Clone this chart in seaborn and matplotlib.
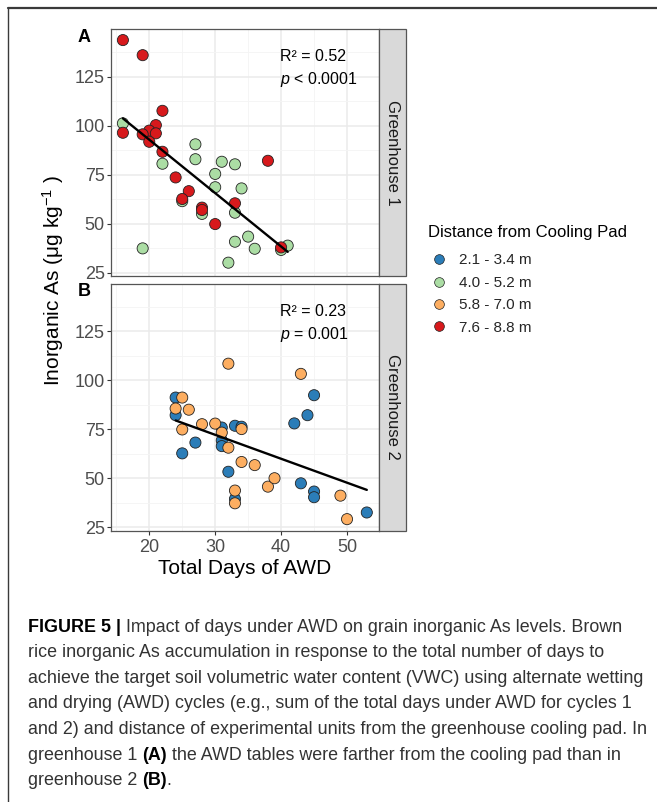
import numpy as np
import pandas as pd
import matplotlib
matplotlib.use("Agg")
import matplotlib.pyplot as plt
import seaborn as sns
from matplotlib.lines import Line2D
from matplotlib.patches import Rectangle

sns.set_theme(style="white")
plt.rcParams["font.family"] = ["Liberation Sans", "DejaVu Sans"]
plt.rcParams["mathtext.fontset"] = "custom"
plt.rcParams["mathtext.rm"] = "Liberation Sans"
plt.rcParams["mathtext.it"] = "Liberation Sans:italic"
plt.rcParams["mathtext.bf"] = "Liberation Sans:bold"

# ---------------- data ----------------
dist_labels = ["2.1 - 3.4 m", "4.0 - 5.2 m", "5.8 - 7.0 m", "7.6 - 8.8 m"]
dist_colors = ["#2B7DB8", "#ABDDA4", "#FDAE61", "#D7191C"]

# Greenhouse 1
gh1_green_days = [16, 19, 22, 25, 27, 27, 28, 30, 30, 31, 33, 34, 33, 33, 35, 36, 32, 40, 41]
gh1_green_as = [101.2, 37.4, 80.6, 61.5, 90.5, 82.9, 55.0, 75.4, 68.6, 81.6, 80.3, 68.0,
                55.6, 40.8, 43.4, 37.2, 30.1, 36.6, 38.8]
gh1_red_days = [16, 19, 22, 16, 21, 20, 19, 21, 20, 22, 24, 26, 25, 28, 28, 30, 33, 38, 40]
gh1_red_as = [143.7, 136.0, 107.6, 96.4, 100.3, 97.5, 95.6, 96.1, 91.8, 86.7, 73.6, 66.6,
              62.6, 58.2, 57.0, 49.8, 60.4, 82.1, 37.9]

# Greenhouse 2
gh2_blue_days = [24, 24, 25, 27, 31, 31, 31, 33, 34, 32, 33, 42, 44, 45, 43, 45, 45, 53]
gh2_blue_as = [91.2, 82.2, 62.7, 68.2, 75.9, 69.3, 66.4, 76.8, 76.3, 53.3, 39.4, 78.0,
               82.2, 92.4, 47.4, 43.2, 40.3, 32.5]
gh2_orange_days = [25, 24, 26, 25, 28, 30, 31, 32, 32, 34, 34, 36, 33, 33, 38, 39, 43, 49, 50]
gh2_orange_as = [91.2, 85.6, 85.0, 74.9, 77.6, 77.9, 73.3, 65.6, 108.5, 75.1, 58.3, 56.7,
                 43.7, 37.2, 45.7, 50.0, 103.3, 41.1, 29.1]

stats_text = [("R\u00b2 = 0.52", r"$\it{p}$ < 0.0001"), ("R\u00b2 = 0.23", r"$\it{p}$ = 0.001")]
panel_letters = ["A", "B"]
strip_labels = ["Greenhouse 1", "Greenhouse 2"]

dA = pd.concat([
    pd.DataFrame({"days": gh1_green_days, "inas": gh1_green_as, "dist": dist_labels[1]}),
    pd.DataFrame({"days": gh1_red_days, "inas": gh1_red_as, "dist": dist_labels[3]}),
], ignore_index=True)
dB = pd.concat([
    pd.DataFrame({"days": gh2_blue_days, "inas": gh2_blue_as, "dist": dist_labels[0]}),
    pd.DataFrame({"days": gh2_orange_days, "inas": gh2_orange_as, "dist": dist_labels[2]}),
], ignore_index=True)
palette = dict(zip(dist_labels, dist_colors))

# ---------------- layout ----------------
W, H = 657, 802
fig = plt.figure(figsize=(W / 100, H / 100), dpi=100)


def rect(l, t, r, b):
    return [l / W, 1 - b / H, (r - l) / W, (b - t) / H]


panels = [(29.3, 276.0), (284.0, 530.5)]
L, R = 110.7, 379.0
axes = [fig.add_axes(rect(L, t, R, b)) for t, b in panels]

for i, (ax, d) in enumerate(zip(axes, [dA, dB])):
    sns.scatterplot(data=d, x="days", y="inas", hue="dist", palette=palette, ax=ax,
                    s=64, edgecolor="#222222", linewidth=0.6, legend=False, zorder=3)
    sns.regplot(data=d, x="days", y="inas", scatter=False, ci=None, color="black",
                line_kws={"lw": 1.7, "zorder": 4}, ax=ax, truncate=True)
    ax.set_xlim(14.15, 54.85)
    ax.set_ylim(23.3, 149.2)
    ax.set_xticks([20, 30, 40, 50])
    ax.set_xticks([15, 25, 35, 45], minor=True)
    ax.set_yticks([25, 50, 75, 100, 125])
    ax.set_yticks([37.5, 62.5, 87.5, 112.5, 137.5], minor=True)
    ax.grid(True, which="major", color="#EBEBEB", lw=1.1)
    ax.grid(True, which="minor", color="#F4F4F4", lw=0.6)
    ax.set_axisbelow(True)
    for s in ax.spines.values():
        s.set_color("#555555")
        s.set_linewidth(0.9)
    show_x = i == 1
    ax.tick_params(which="major", length=2.8, width=0.8, color="#333333", labelsize=13,
                   labelcolor="#4D4D4D", pad=1.5, left=True, bottom=show_x,
                   labelbottom=show_x)
    ax.tick_params(axis="x", pad=3)
    ax.tick_params(which="minor", length=0)
    ax.set_xlabel("")
    ax.set_ylabel("")

    t, b = panels[i]
    fig.add_artist(Rectangle((R / W, 1 - b / H), 27 / W, (b - t) / H,
                             transform=fig.transFigure, facecolor="#D9D9D9",
                             edgecolor="#555555", lw=0.9))
    fig.text(392.5 / W, 1 - (t + b) / 2 / H, strip_labels[i], rotation=-90, ha="center",
             va="center", fontsize=12, color="#1A1A1A")
    fig.text(84 / W, 1 - (t + 8) / H, panel_letters[i], fontsize=13, fontweight="bold",
             ha="center", va="center", color="black")
    fig.text(280 / W, 1 - (t + 27.5) / H, stats_text[i][0], fontsize=11.5, ha="left",
             va="center", color="black")
    fig.text(280 / W, 1 - (t + 50.5) / H, stats_text[i][1], fontsize=11.5, ha="left",
             va="center", color="black")

fig.text(53 / W, 1 - 280 / H, r"Inorganic As ($\mathregular{\mu}$g kg$^{-1}$ )", rotation=90,
         fontsize=15, ha="center", va="center", color="black")
fig.text(245 / W, 1 - 568 / H, "Total Days of AWD", fontsize=15, ha="center", va="center",
         color="black")

# legend
fig.text(428 / W, 1 - 232 / H, "Distance from Cooling Pad", fontsize=12, ha="left",
         va="center", color="black")
handles = [Line2D([], [], marker="o", ls="", markersize=7, markerfacecolor=c,
                  markeredgecolor="#222222", markeredgewidth=0.5) for c in dist_colors]
fig.legend(handles, dist_labels, loc="upper left",
           bbox_to_anchor=(430 / W, 1 - 253.5 / H), frameon=False, fontsize=11,
           handletextpad=0.7, labelspacing=0.55, alignment="left",
           borderpad=0, handlelength=1.2, borderaxespad=0)

# frame lines
fig.add_artist(Line2D([8.3 / W, 1], [1 - 8.3 / H, 1 - 8.3 / H], transform=fig.transFigure,
                      color="#3A3A3A", lw=1.6))
fig.add_artist(Line2D([8.3 / W, 8.3 / W], [1 - 8.3 / H, 0], transform=fig.transFigure,
                      color="#3A3A3A", lw=1.0))

# caption
caption_lines = [
    [("FIGURE 5 |", True), (" Impact of days under AWD on grain inorganic As levels. Brown", False)],
    [("rice inorganic As accumulation in response to the total number of days to", False)],
    [("achieve the target soil volumetric water content (VWC) using alternate wetting", False)],
    [("and drying (AWD) cycles (e.g., sum of the total days under AWD for cycles 1", False)],
    [("and 2) and distance of experimental units from the greenhouse cooling pad. In", False)],
    [("greenhouse 1 ", False), ("(A)", True), (" the AWD tables were farther from the cooling pad than in", False)],
    [("greenhouse 2 ", False), ("(B)", True), (".", False)],
]
renderer = fig.canvas.get_renderer()
probe = fig.text(0, 0, caption_lines[2][0][0], fontsize=11.5)
pw = probe.get_window_extent(renderer).width
probe.remove()
cap_fs = 11.5 * 617 / pw

for k, segs in enumerate(caption_lines):
    y = 627 + k * 25.6
    x = 28
    for txt, bold in segs:
        tt = fig.text(x / W, 1 - y / H, txt, fontsize=cap_fs,
                      fontweight="bold" if bold else "normal",
                      color="black" if bold else "#333333", ha="left", va="center")
        x += tt.get_window_extent(renderer).width

fig.savefig("out.png", dpi=100)
